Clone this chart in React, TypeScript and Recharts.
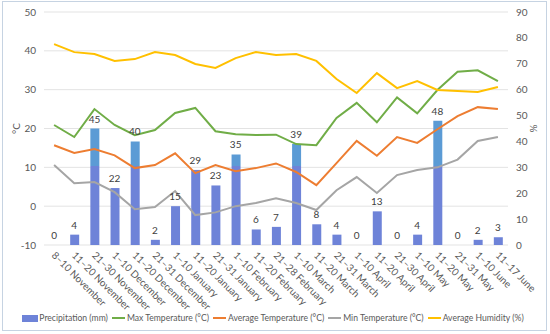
import { ComposedChart, Bar, Line, XAxis, YAxis, CartesianGrid, Legend, LabelList } from "recharts";

const periods = [
  "8–10 November", "11–20 November", "21–30 November", "1–10 December", "11–20 December",
  "21–31 December", "1–10 January", "11–20 January", "21–31 January", "1–10 February",
  "11–20 February", "21–28 February", "1–10 March", "11–20 March", "21–31 March",
  "1–10 April", "11–20 April", "21–30 April", "1–10 May", "11–20 May",
  "21–31 May", "1–10 June", "11–17 June",
];
const precipitation = [0, 4, 45, 22, 40, 2, 15, 29, 23, 35, 6, 7, 39, 8, 4, 0, 13, 0, 4, 48, 0, 2, 3];
const maxTemp = [20.9, 17.8, 25, 20.9, 18.3, 19.6, 24, 25.3, 19.3, 18.5, 18.3, 18.4, 16, 15.7, 22.7, 26.6, 21.6, 28, 23.9, 29.9, 34.6, 35, 32.2];
const avgTemp = [15.7, 13.7, 14.7, 13.1, 9.8, 10.6, 13.6, 8.5, 10.6, 9, 9.8, 11, 8.8, 5.4, 11.1, 16.8, 13, 17.8, 16.3, 19.8, 23.2, 25.5, 25];
const minTemp = [10.6, 5.9, 6.2, 3.6, -0.8, -0.2, 3.9, -2.3, -1.6, 0, 0.8, 2, 0.8, -1, 4.1, 7.5, 3.4, 8, 9.3, 10, 12, 16.8, 17.8];
const humidity = [77.6, 74.5, 73.8, 71.1, 71.8, 74.5, 73.4, 69.9, 68.4, 72.2, 74.5, 73.4, 73.8, 71.1, 64.1, 58.7, 66.4, 60.6, 63.3, 59.9, 59.5, 59.1, 61];
const tempTicks = [-10, 0, 10, 20, 30, 40, 50];
const pctTicks = [0, 10, 20, 30, 40, 50, 60, 70, 80, 90];

const data = periods.map((p, i) => ({
  period: p,
  precip: precipitation[i],
  max: maxTemp[i],
  avg: avgTemp[i],
  min: minTemp[i],
  hum: humidity[i],
}));

const FONT = "Lato, 'Liberation Sans', sans-serif";

const legendItems = [
  { name: "Precipitation (mm)", color: "#6e83d8", bar: true },
  { name: "Max Temperature (°C)", color: "#70ad47" },
  { name: "Average Temperature (°C)", color: "#ed7d31" },
  { name: "Min Temperature (°C)", color: "#a5a5a5" },
  { name: "Average Humidity (%)", color: "#ffc000" },
];

const LegendBox = () => (
  <div style={{ display: "flex", justifyContent: "center", whiteSpace: "nowrap", height: 20, lineHeight: "20px", fontFamily: FONT, fontSize: 8.6, color: "#595959" }}>
    {legendItems.map((it) => (
      <div key={it.name} style={{ display: "flex", alignItems: "center", marginRight: 4 }}>
        {it.bar ? (
          <span style={{ width: 16, height: 7, background: it.color, display: "inline-block", marginRight: 1 }} />
        ) : (
          <span style={{ width: 13, height: 2, background: it.color, display: "inline-block", marginRight: 2 }} />
        )}
        <span>{it.name}</span>
      </div>
    ))}
  </div>
);

const XTick = (props: any) => {
  const { x, y, payload } = props;
  const tx = x - 3;
  const ty = y + 3;
  return (
    <text x={tx} y={ty} transform={`rotate(45, ${tx}, ${ty})`} textAnchor="start" fontSize={10} fill="#595959" fontFamily={FONT}>
      {payload.value}
    </text>
  );
};

const SideLabel = (text: string, dx: number) => (props: any) => {
  const vb = props.viewBox;
  const cx = vb.x + dx;
  const cy = vb.y + vb.height / 2;
  return (
    <text x={cx} y={cy} transform={`rotate(-90, ${cx}, ${cy})`} textAnchor="middle" dominantBaseline="central" fontSize={10} fill="#595959" fontFamily={FONT}>
      {text}
    </text>
  );
};

export default function App() {
  return (
    <div style={{ position: "absolute", left: 0, top: 0, width: 550, height: 334, background: "#fff" }}>
      <div style={{ position: "absolute", left: 2, top: 1, width: 543, height: 328, border: "1px solid #c6d3e2" }} />
      <ComposedChart width={550} height={334} data={data} margin={{ top: 12, right: 0, left: 0, bottom: 6 }} style={{ position: "absolute", left: 0, top: 0 }}>
        <defs>
          <linearGradient id="precipFill" gradientUnits="userSpaceOnUse" x1="0" y1="12" x2="0" y2="245">
            <stop offset="0.66" stopColor="#5b9bd5" />
            <stop offset="0.66" stopColor="#6e83d8" />
          </linearGradient>
        </defs>
        <CartesianGrid vertical={false} stroke="#e3e3e3" yAxisId="temp" />
        <XAxis dataKey="period" interval={0} height={63} tick={<XTick />} axisLine={false} tickLine={false} />
        <YAxis
          yAxisId="temp"
          domain={[-10, 50]}
          ticks={tempTicks}
          width={44}
          axisLine={false}
          tickLine={false}
          tick={{ fontSize: 10, fill: "#595959", fontFamily: FONT }}
          label={{ content: SideLabel("°C", 16) }}
        />
        <YAxis
          yAxisId="pct"
          orientation="right"
          domain={[0, 90]}
          ticks={pctTicks}
          width={42}
          axisLine={false}
          tickLine={false}
          tick={{ fontSize: 10, fill: "#595959", fontFamily: FONT }}
          label={{ content: SideLabel("%", 25) }}
        />
        <Legend verticalAlign="bottom" wrapperStyle={{ left: 0, width: 550 }} content={<LegendBox />} />
        <Bar yAxisId="pct" dataKey="precip" name="Precipitation (mm)" fill="url(#precipFill)" barSize={9} isAnimationActive={false} />
        <Line yAxisId="pct" dataKey="precip" stroke="none" dot={false} activeDot={false} legendType="none" isAnimationActive={false}>
          <LabelList dataKey="precip" position="top" offset={6} fontSize={10} fill="#404040" fontFamily={FONT} />
        </Line>
        <Line yAxisId="temp" dataKey="max" name="Max Temperature (°C)" stroke="#70ad47" strokeWidth={2} dot={false} isAnimationActive={false} />
        <Line yAxisId="temp" dataKey="avg" name="Average Temperature (°C)" stroke="#ed7d31" strokeWidth={2} dot={false} isAnimationActive={false} />
        <Line yAxisId="temp" dataKey="min" name="Min Temperature (°C)" stroke="#a5a5a5" strokeWidth={2} dot={false} isAnimationActive={false} />
        <Line yAxisId="pct" dataKey="hum" name="Average Humidity (%)" stroke="#ffc000" strokeWidth={2} dot={false} isAnimationActive={false} />
      </ComposedChart>
    </div>
  );
}
